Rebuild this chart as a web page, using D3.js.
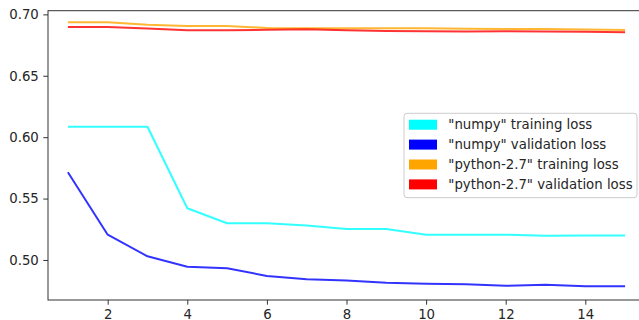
<!DOCTYPE html>
<html>
<head>
<meta charset="utf-8">
<script src="https://cdn.jsdelivr.net/npm/d3@7"></script>
<style>
  body { margin: 0; background: #fff; }
  svg { display: block; font-family: "DejaVu Sans", sans-serif; }
</style>
</head>
<body>
<div id="chart"></div>
<script>
// epochs and loss values
const epochs = [1, 2, 3, 4, 5, 6, 7, 8, 9, 10, 11, 12, 13, 14, 15];
const numpyTrain = [0.6085, 0.6085, 0.6085, 0.5421, 0.5299, 0.5299, 0.5280, 0.5252, 0.5252, 0.5206, 0.5206, 0.5206, 0.5198, 0.5200, 0.5200];
const numpyVal = [0.5714, 0.5206, 0.5030, 0.4945, 0.4932, 0.4870, 0.4843, 0.4832, 0.4815, 0.4807, 0.4802, 0.4790, 0.4799, 0.4786, 0.4786];
const pyTrain = [0.6935, 0.6935, 0.6915, 0.6905, 0.6905, 0.6890, 0.6888, 0.6888, 0.6888, 0.6888, 0.6884, 0.6880, 0.6880, 0.6876, 0.6872];
const pyVal = [0.6897, 0.6897, 0.6885, 0.6870, 0.6870, 0.6875, 0.6878, 0.6870, 0.6865, 0.6862, 0.6860, 0.6862, 0.6860, 0.6858, 0.6855];
const seriesNames = ['"numpy" training loss', '"numpy" validation loss', '"python-2.7" training loss', '"python-2.7" validation loss'];
const seriesColors = ["#00ffff", "#0000ff", "#ffa500", "#ff0000"];
const xTicks = [2, 4, 6, 8, 10, 12, 14];
const yTicks = [0.50, 0.55, 0.60, 0.65, 0.70];

const width = 639, height = 320;
const plotLeft = 48, plotTop = 10.7, plotBottom = 300, plotRight = 645;

const svg = d3.select("#chart").append("svg")
    .attr("width", width)
    .attr("height", height);

const x = d3.scaleLinear().domain([0.5, 15.5]).range([plotLeft, plotRight]);
const y = d3.scaleLinear().domain([0.4674, 0.703]).range([plotBottom, plotTop]);

const series = [numpyTrain, numpyVal, pyTrain, pyVal];

const line = d3.line()
    .x((d, i) => x(epochs[i]))
    .y(d => y(d));

series.forEach((s, i) => {
    svg.append("path")
        .datum(s)
        .attr("fill", "none")
        .attr("stroke", seriesColors[i])
        .attr("stroke-opacity", 0.8)
        .attr("stroke-width", 2)
        .attr("stroke-linejoin", "round")
        .attr("d", line);
});

// axes
const xAxis = svg.append("g")
    .attr("transform", "translate(0," + plotBottom + ")")
    .call(d3.axisBottom(x).tickValues(xTicks).tickSize(4.7).tickPadding(4.5).tickFormat(d3.format("d")));

const yAxis = svg.append("g")
    .attr("transform", "translate(" + plotLeft + ",0)")
    .call(d3.axisLeft(y).tickValues(yTicks).tickSize(4.7).tickPadding(4.5).tickFormat(d3.format(".2f")));

[xAxis, yAxis].forEach(a => {
    a.select(".domain").remove();
    a.selectAll(".tick line").attr("stroke", "#333").attr("stroke-width", 1);
    a.selectAll(".tick text").attr("fill", "#262626").style("font-size", "13.3px").style("font-family", "DejaVu Sans");
});

// frame
svg.append("rect")
    .attr("x", plotLeft)
    .attr("y", plotTop)
    .attr("width", plotRight - plotLeft)
    .attr("height", plotBottom - plotTop)
    .attr("fill", "none")
    .attr("stroke", "#333")
    .attr("stroke-width", 1);

// legend
const legend = svg.append("g");
legend.append("rect")
    .attr("x", 404)
    .attr("y", 113.3)
    .attr("width", 233)
    .attr("height", 84.4)
    .attr("rx", 3)
    .attr("fill", "#fff")
    .attr("fill-opacity", 0.8)
    .attr("stroke", "#ccc")
    .attr("stroke-width", 1);

seriesNames.forEach((name, i) => {
    const cy = 124.7 + i * 19.9;
    legend.append("rect")
        .attr("x", 409)
        .attr("y", cy - 5)
        .attr("width", 28)
        .attr("height", 10)
        .attr("fill", seriesColors[i]);
    legend.append("text")
        .attr("x", 448.3)
        .attr("y", cy)
        .attr("dy", "0.35em")
        .attr("fill", "#262626")
        .style("font-size", "13.3px")
        .text(name);
});
</script>
</body>
</html>
